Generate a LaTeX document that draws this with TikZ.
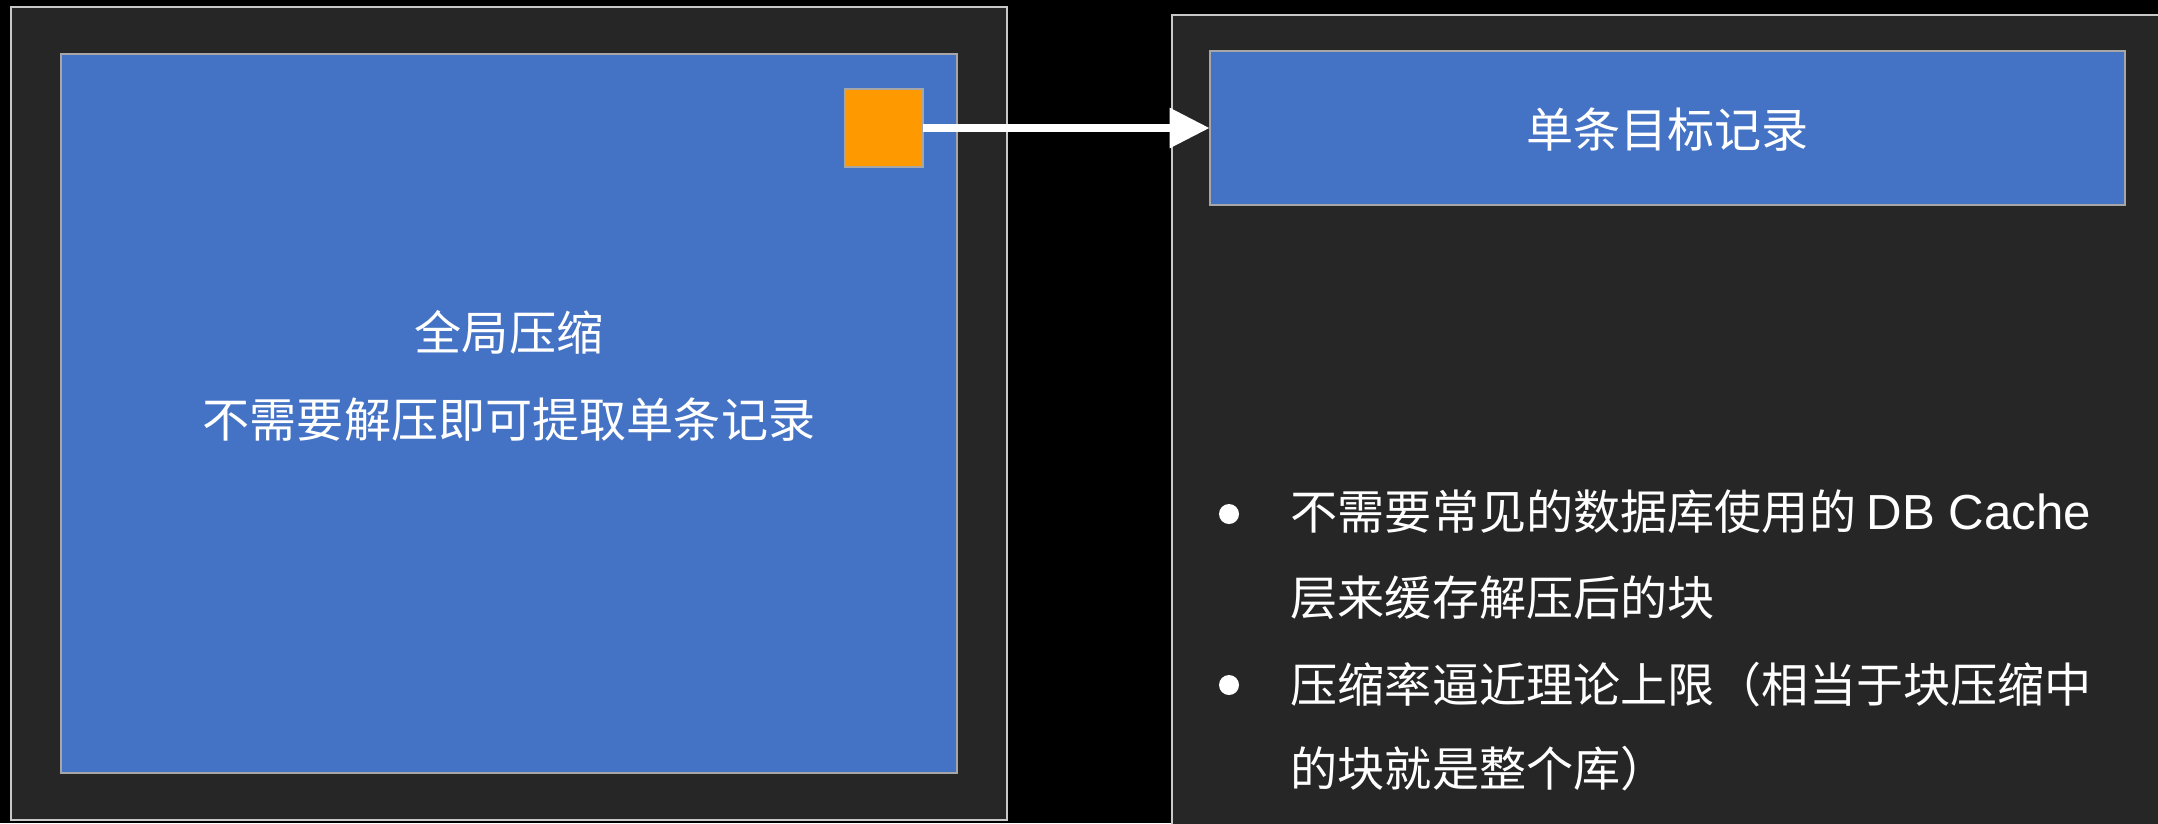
\documentclass[tikz,border=0pt]{standalone}
\usepackage{fontspec}
\setmainfont{Liberation Sans}
\newfontfamily\cjk{Noto Sans CJK SC}
\usetikzlibrary{arrows.meta}
\definecolor{panel}{HTML}{262626}
\definecolor{boxblue}{HTML}{4472C4}
\definecolor{rec}{HTML}{FF9900}
\definecolor{edgelight}{HTML}{C8C8C8}
\definecolor{edgegray}{HTML}{A6A6A6}
\begin{document}
\begin{tikzpicture}[x=0.01cm,y=-0.01cm,
  panelbox/.style={draw=edgelight,fill=panel,line width=0.02cm,inner sep=0pt,outer sep=0pt},
  bluebox/.style={draw=edgegray,fill=boxblue,line width=0.02cm,inner sep=0pt,outer sep=0pt},
  recbox/.style={draw=edgegray,fill=rec,line width=0.02cm,inner sep=0pt,outer sep=0pt},
  lbl/.style={text=white,font=\cjk\fontsize{13.4pt}{16pt}\selectfont,inner sep=0pt},
  bul/.style={circle,fill=white,minimum size=0.2cm,inner sep=0pt},
  link/.style={draw=white,line width=0.085cm,-{Triangle[length=0.4cm,width=0.38cm]}}]
\fill[black] (0,0) rectangle (2158,823);
\useasboundingbox (0,0) rectangle (2158,823);
\clip (0,0) rectangle (2158,823);
% left panel
\node[panelbox,minimum width=9.96cm,minimum height=8.13cm] (lpanel) at (509,413.5) {};
\node[bluebox,minimum width=8.96cm,minimum height=7.19cm] (gbox) at (509,413.5) {};
\node[recbox,minimum width=0.78cm,minimum height=0.78cm] (rec) at (884,128) {};
\node[lbl] (g1) at (509,332) {全局压缩};
\node[lbl] (g2) at (509,420) {不需要解压即可提取单条记录};
% right panel
\node[panelbox,minimum width=10.08cm,minimum height=8.25cm] (rpanel) at (1676,427.5) {};
\node[bluebox,minimum width=9.15cm,minimum height=1.54cm] (tgt) at (1667.5,128) {};
\node[lbl] (tlabel) at (1667.5,130) {单条目标记录};
% arrow
\draw[link] (rec.east) -- (tgt.west);
% bullets
\node[bul] (b1) at (1229,514) {};
\node[bul] (b2) at (1229,685) {};
\node[lbl,anchor=west] (l1) at (1290,512) {不需要常见的数据库使用的 {\rmfamily\fontsize{14pt}{16pt}\selectfont DB Cache}};
\node[lbl,anchor=west] (l2) at (1290,598) {层来缓存解压后的块};
\node[lbl,anchor=west] (l3) at (1290,685) {压缩率逼近理论上限（相当于块压缩中};
\node[lbl,anchor=west] (l4) at (1290,769) {的块就是整个库）};
\end{tikzpicture}
\end{document}
